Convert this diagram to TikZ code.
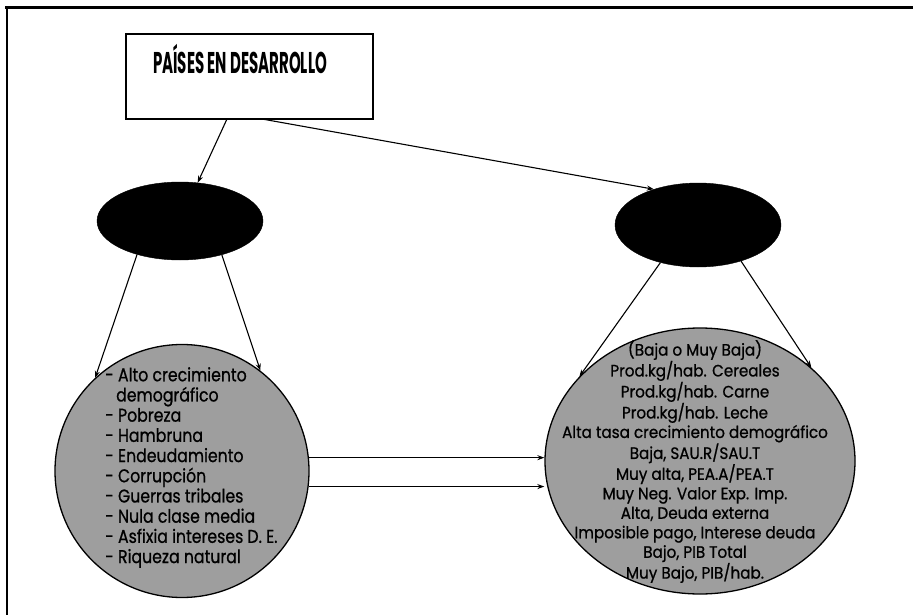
\documentclass[tikz,border=0pt]{standalone}
\usepackage{fontspec}
\setmainfont{Poppins}
\newfontfamily\titlefont[FakeStretch=0.5]{Poppins}
\newfontfamily\leftfont[FakeStretch=0.85,FakeBold=0.8]{Poppins}
\newfontfamily\rightfont[FakeStretch=0.92,FakeBold=0.8]{Poppins}
\usetikzlibrary{arrows.meta,shapes.geometric}
\begin{document}
\begin{tikzpicture}[x=1pt,y=-1pt,
  conn/.style={line width=1.1pt,-{Stealth[length=7pt,width=5pt]}},
  titlebox/.style={draw,line width=1.3pt,minimum width=247pt,minimum height=85pt,inner sep=0pt},
  blackell/.style={ellipse,fill=black,draw=black,inner sep=0pt},
  grayblob/.style={ellipse,draw=black,line width=1.3pt,fill=black!38,inner sep=0pt}
]
\useasboundingbox (0,0) rectangle (913,615);
\fill[white] (0,0) rectangle (913,615);
\coordinate (ftl) at (5,7.5);
\coordinate (ftr) at (913,7.5);
\coordinate (fbl) at (7,615);
\draw[line width=3.2pt] (ftl) -- (ftr);
\draw[line width=1.4pt] (7,7.5) -- (fbl);

\node[titlebox] (title) at (249.5,76.5) {};
\node[inner sep=0pt] (titletext) at (240,59) {\titlefont\bfseries\fontsize{30}{30}\selectfont PAÍSES EN DESARROLLO};

\node[blackell,minimum width=166pt,minimum height=78pt] (ell1) at (180,221) {};
\node[blackell,minimum width=166pt,minimum height=84pt] (ell2) at (698,225) {};

\node[grayblob,minimum width=254pt,minimum height=253pt] (c1) at (182,471) {};
\node[grayblob,minimum width=310pt,minimum height=266pt] (c2) at (700,461) {};

\coordinate (t1) at (227,119);
\coordinate (t2) at (262,119);
\draw[conn] (t1) -- (ell1);
\draw[conn] (t2) -- (ell2.141);

\draw[conn] (ell1.218) -- (c1.133);
\draw[conn] (ell1.321) -- (c1.52);
\draw[conn] (ell2.225) -- (c2.145);
\draw[conn] (ell2.320) -- (c2.40);

\draw[conn] (c1.6) -- (c1.6 -| c2.west);
\draw[conn] (c1.353) -- (c1.353 -| c2.west);

\node[anchor=north west,align=left,inner sep=0pt,font=\leftfont\fontsize{18.5}{20.2}\selectfont] (t1text) at (105,367)
{- Alto crecimiento\\
\hspace*{11pt}demográfico\\
- Pobreza\\
- Hambruna\\
- Endeudamiento\\
- Corrupción\\
- Guerras tribales\\
- Nula clase media\\
- Asfixia intereses D. E.\\
- Riqueza natural};

\node[anchor=north,align=center,inner sep=0pt,font=\rightfont\fontsize{16.5}{19.5}\selectfont] (t2text) at (695,340)
{(Baja o Muy Baja)\\
Prod.kg/hab. Cereales\\
Prod.kg/hab. Carne\\
Prod.kg/hab. Leche\\
Alta tasa crecimiento demográfico\\
Baja, SAU.R/SAU.T\\
Muy alta, PEA.A/PEA.T\\
Muy Neg. Valor Exp. Imp.\\
Alta, Deuda externa\\
Imposible pago, Interese deuda\\
Bajo, PIB Total\\
Muy Bajo, PIB/hab.};
\end{tikzpicture}
\end{document}
